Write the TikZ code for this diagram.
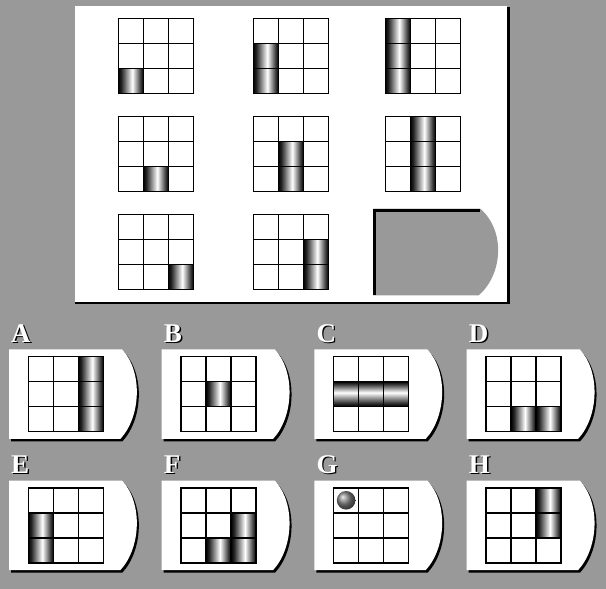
\documentclass[tikz,border=0pt]{standalone}
\usepackage{fontspec}
\setmainfont{Liberation Serif}
\pgfdeclarehorizontalshading{barshade}{100bp}{color(0bp)=(black); color(25bp)=(black); color(31bp)=(black!85); color(53bp)=(white); color(69bp)=(black!75); color(75bp)=(black); color(100bp)=(black)}
% 3x3 grid, cells and card outline (1 unit = 1 pixel)
\newcommand{\tgrid}{\draw[gridline] (0,0) rectangle (75,75) (25,0) -- (25,75) (50,0) -- (50,75) (0,25) -- (75,25) (0,50) -- (75,50);}
\newcommand{\cellv}[2]{\shade[barv] ({(#1-1)*25},{(#2-1)*25}) rectangle ++(25,25);}
\newcommand{\cellh}[2]{\shade[barh] ({(#1-1)*25},{(#2-1)*25}) rectangle ++(25,25);}
\newcommand{\pgrid}[3]{\begin{scope}[shift={(#1,#2)}]#3\tgrid\end{scope}}
\newcommand{\cardpath}[3]{(0,0) -- (#1,0) .. controls (#1+#3,#2*0.25) and (#1+#3-2,#2*0.75) .. (#1-1.5,#2) -- (0,#2) -- cycle}
\newcommand{\card}[5]{\begin{scope}[shift={(#1,#2)}]
    \fill[black,shift={(2,2.5)}] \cardpath{113}{89.5}{21};
    \fill[white] \cardpath{113}{89.5}{21};
    \node[lblshadow] (#4s) at (3.4,-5.6) {#3};
    \node[lbl] (#4) at (2,-7) {#3};
    \pgrid{19.3}{7.3}{#5}
  \end{scope}}
\begin{document}
\begin{tikzpicture}[x=1pt, y=-1pt,
    gridline/.style = {draw=black, line width=1.6pt},
    barv/.style = {shading=barshade},
    barh/.style = {shading=barshade, shading angle=90},
    lbl/.style = {anchor=base west, inner sep=0pt, text=white, font=\bfseries\fontsize{27}{27}\selectfont},
    lblshadow/.style = {lbl, text=black}]
  \useasboundingbox (0,0) rectangle (606,589);
  \fill[black!40] (0,0) rectangle (606,589);
  % question panel
  \fill[black] (75,7) rectangle (510,304);
  \fill[white] (74.5,6) rectangle (506.7,301.7);
  \pgrid{118.3}{18.3}{\cellv13}
  \pgrid{253.3}{18.3}{\cellv12\cellv13}
  \pgrid{385.3}{18.3}{\cellv11\cellv12\cellv13}
  \pgrid{118.3}{116.3}{\cellv23}
  \pgrid{253.3}{116.3}{\cellv22\cellv23}
  \pgrid{385.3}{116.3}{\cellv21\cellv22\cellv23}
  \pgrid{118.3}{214.3}{\cellv33}
  \pgrid{253.3}{214.3}{\cellv32\cellv33}
  % missing piece
  \begin{scope}[shift={(373.3,208.7)}]
    \fill[black!40] \cardpath{107}{86.6}{25};
    \draw[line width=3pt] (1.5,86.6) -- (1.5,1.5) -- (107,1.5);
  \end{scope}
  % answers
  \card{9}{349.3}{A}{lblA}{\cellv31\cellv32\cellv33}
  \card{161.7}{349.3}{B}{lblB}{\cellv22}
  \card{314.3}{349.3}{C}{lblC}{\cellh12\cellh22\cellh32}
  \card{466.7}{349.3}{D}{lblD}{\cellv23\cellv33}
  \card{9}{480.5}{E}{lblE}{\cellv12\cellv13}
  \card{161.7}{480.5}{F}{lblF}{\cellv23\cellv32\cellv33}
  \card{314.3}{480.5}{G}{lblG}{\shade[ball color=gray] (12.5,12.5) circle (9.3);}
  \card{466.7}{480.5}{H}{lblH}{\cellv31\cellv32}
\end{tikzpicture}
\end{document}
